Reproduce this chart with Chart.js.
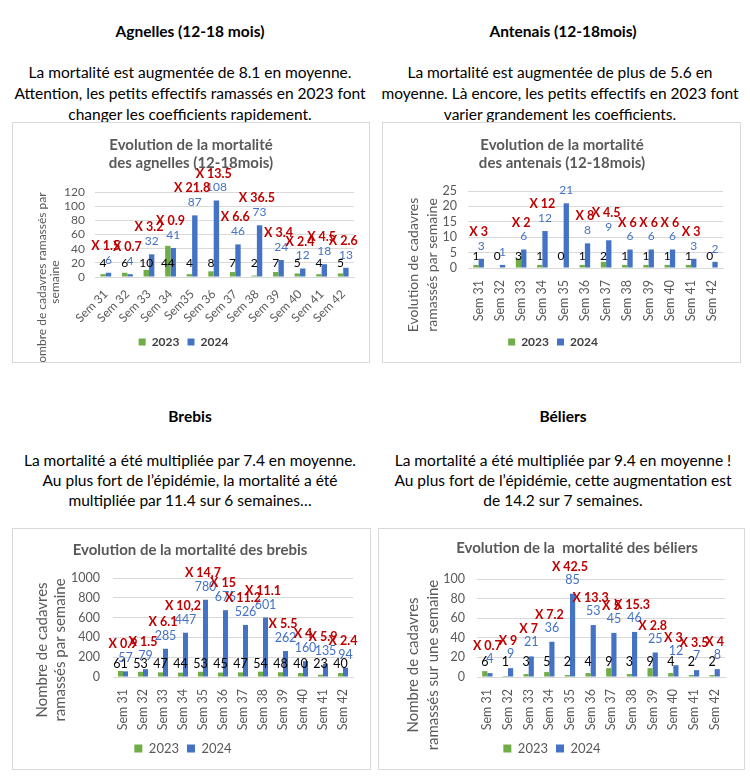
<!DOCTYPE html>
<html>
<head>
<meta charset="utf-8">
<script src="https://cdn.jsdelivr.net/npm/chart.js@4.4.1/dist/chart.umd.min.js"></script>
<style>
  html, body { margin:0; padding:0; background:#fff; }
  body { width:750px; height:779px; position:relative; overflow:hidden; font-family: Lato, 'Liberation Sans', sans-serif; color:#000; }
  .ln { position:absolute; width:420px; text-align:center; white-space:nowrap; font-size:15.5px; line-height:20px; }
  .hd { font-weight:bold; font-size:15.5px; }
  .box { position:absolute; border:1px solid #d9d9d9; box-sizing:border-box; background:#fff; }
  .box canvas { position:absolute; left:0; top:0; }
</style>
</head>
<body>

<div class="ln hd" style="left:-20px; top:21px;">Agnelles (12-18 mois)</div>
<div class="ln" style="left:-20px; top:62px;">La mortalité est augmentée de 8.1 en moyenne.</div>
<div class="ln" style="left:-20px; top:83px;">Attention, les petits effectifs ramassés en 2023 font</div>
<div class="ln" style="left:-20px; top:104px;">changer les coefficients rapidement.</div>

<div class="ln hd" style="left:353px; top:21px;">Antenais (12-18mois)</div>
<div class="ln" style="left:350px; top:62px;">La mortalité est augmentée de plus de 5.6 en</div>
<div class="ln" style="left:350px; top:83px;">moyenne. Là encore, les petits effectifs en 2023 font</div>
<div class="ln" style="left:350px; top:104px;">varier grandement les coefficients.</div>

<div class="ln hd" style="left:-20px; top:406px;">Brebis</div>
<div class="ln" style="left:-20px; top:450px;">La mortalité a été multipliée par 7.4 en moyenne.</div>
<div class="ln" style="left:-20px; top:470px;">Au plus fort de l’épidémie, la mortalité a été</div>
<div class="ln" style="left:-20px; top:490px;">multipliée par 11.4 sur 6 semaines…</div>

<div class="ln hd" style="left:353px; top:406px;">Béliers</div>
<div class="ln" style="left:353px; top:450px;">La mortalité a été multipliée par 9.4 en moyenne !</div>
<div class="ln" style="left:353px; top:470px;">Au plus fort de l’épidémie, cette augmentation est</div>
<div class="ln" style="left:353px; top:490px;">de 14.2 sur 7 semaines.</div>

<div class="box" style="left:12px; top:122px; width:358px; height:241px;"><canvas id="cA"></canvas></div>
<div class="box" style="left:382px; top:122px; width:359px; height:241px;"><canvas id="cB"></canvas></div>
<div class="box" style="left:12px; top:528px; width:359px; height:242px;"><canvas id="cC"></canvas></div>
<div class="box" style="left:378px; top:528px; width:367px; height:242px;"><canvas id="cD"></canvas></div>

<script>
// ---------- DATA ----------
const weekLabelsAgnelles = ['Sem 31','Sem 32','Sem 33','Sem 34','Sem35','Sem 36','Sem 37','Sem 38','Sem 39','Sem 40','Sem 41','Sem 42'];
const weekLabels = ['Sem 31','Sem 32','Sem 33','Sem 34','Sem 35','Sem 36','Sem 37','Sem 38','Sem 39','Sem 40','Sem 41','Sem 42'];
const yearLabels = ['2023','2024'];

const agnelles2023 = [4, 6, 10, 44, 4, 8, 7, 2, 7, 5, 4, 5];
const agnelles2024 = [6, 4, 32, 41, 87, 108, 46, 73, 24, 12, 18, 13];
const agnellesRatio = ['X 1.5','X 0.7','X 3.2','X 0.9','X 21.8','X 13.5','X 6.6','X 36.5','X 3.4','X 2.4','X 4.5','X 2.6'];
const agnellesTicks = [0, 20, 40, 60, 80, 100, 120];

const antenais2023 = [1, 0, 3, 1, 0, 1, 2, 1, 1, 1, 1, 0];
const antenais2024 = [3, 1, 6, 12, 21, 8, 9, 6, 6, 6, 3, 2];
const antenaisRatio = ['X 3', null, 'X 2', 'X 12', null, 'X 8', 'X 4.5', 'X 6', 'X 6', 'X 6', 'X 3', null];
const antenaisTicks = [0, 5, 10, 15, 20, 25];

const brebis2023 = [61, 53, 47, 44, 53, 45, 47, 54, 48, 40, 23, 40];
const brebis2024 = [57, 79, 285, 447, 780, 675, 526, 601, 262, 160, 135, 94];
const brebisRatio = ['X 0.9','X 1.5','X 6.1','X 10,2','X 14,7','X 15','X 11.2','X 11.1','X 5.5','X 4','X 5.9','X 2.4'];
const brebisTicks = [0, 200, 400, 600, 800, 1000];

const beliers2023 = [6, 1, 3, 5, 2, 4, 9, 3, 9, 4, 2, 2];
const beliers2024 = [4, 9, 21, 36, 85, 53, 45, 46, 25, 12, 7, 8];
const beliersRatio = ['X 0.7','X 9','X 7','X 7.2','X 42.5','X 13.3','X 5','X 15.3','X 2.8','X 3','X 3.5','X 4'];
const beliersTicks = [0, 20, 40, 60, 80, 100];

// ---------- STYLE ----------
const FONT = "Lato, 'Liberation Sans', sans-serif";
const GREEN = '#70AD47';
const BLUE = '#4472C4';
const RED = '#C00000';
const GRAY = '#595959';
const GRID = '#d9d9d9';

function makePlugin(ratios, cfg) {
  return {
    id: 'panelText',
    afterDatasetsDraw(chart) {
      const ctx = chart.ctx;
      const yS = chart.scales.y, xS = chart.scales.x;
      const y0 = yS.getPixelForValue(0);
      const m0 = chart.getDatasetMeta(0), m1 = chart.getDatasetMeta(1);
      const d0 = chart.data.datasets[0].data, d1 = chart.data.datasets[1].data;
      ctx.save();
      ctx.textAlign = 'center';
      ctx.textBaseline = 'middle';
      ctx.font = cfg.valSize + 'px ' + FONT;
      ctx.fillStyle = '#000';
      m0.data.forEach((bar, i) => ctx.fillText(String(d0[i]), bar.x, y0 - cfg.lowLift));
      ctx.fillStyle = BLUE;
      m1.data.forEach((bar, i) => ctx.fillText(String(d1[i]), bar.x, bar.y - cfg.valLift));
      ctx.font = 'bold ' + cfg.ratioSize + 'px ' + FONT;
      ctx.fillStyle = RED;
      ratios.forEach((r, i) => {
        if (!r) return;
        ctx.fillText(r, xS.getPixelForValue(i) + cfg.ratioDx, m1.data[i].y - cfg.ratioLift);
      });
      // chart title
      ctx.fillStyle = GRAY;
      ctx.font = 'bold ' + cfg.titleSize + 'px ' + FONT;
      cfg.title.forEach((t, k) => ctx.fillText(t, cfg.titleX, cfg.titleY + k * cfg.titleGap));
      // y-axis title
      ctx.font = cfg.yTitleSize + 'px ' + FONT;
      cfg.yTitle.forEach((t, k) => {
        ctx.save();
        ctx.translate(cfg.yTitleX[k], cfg.yTitleY);
        ctx.rotate(-Math.PI / 2);
        ctx.fillText(t, 0, 0);
        ctx.restore();
      });
      ctx.restore();
    }
  };
}

function makeChart(id, labels, v23, v24, ratios, ticks, cfg) {
  const canvas = document.getElementById(id);
  const box = canvas.parentNode;
  canvas.width = box.clientWidth;
  canvas.height = box.clientHeight;
  return new Chart(canvas, {
    type: 'bar',
    data: {
      labels: labels,
      datasets: [
        { label: yearLabels[0], data: v23, backgroundColor: GREEN, categoryPercentage: 0.5, barPercentage: 1.0 },
        { label: yearLabels[1], data: v24, backgroundColor: BLUE, categoryPercentage: 0.5, barPercentage: 1.0 }
      ]
    },
    options: {
      responsive: false,
      animation: false,
      devicePixelRatio: 1,
      layout: { padding: { left: 0, right: cfg.padRight, top: cfg.padTop, bottom: cfg.padBottom } },
      plugins: {
        title: { display: false },
        tooltip: { enabled: false },
        legend: {
          display: true,
          position: 'bottom',
          labels: {
            boxWidth: cfg.legBox, boxHeight: cfg.legBox,
            padding: cfg.legPad,
            color: cfg.legColor,
            font: { family: FONT, size: cfg.legSize, weight: cfg.legWeight }
          }
        }
      },
      scales: {
        x: {
          grid: { display: false },
          border: { display: true, color: GRID },
          ticks: {
            color: GRAY, autoSkip: false,
            minRotation: cfg.rot, maxRotation: cfg.rot,
            padding: cfg.xPad,
            font: { family: FONT, size: cfg.xSize }
          },
          afterFit: (s) => { s.height = cfg.xHeight; }
        },
        y: {
          min: ticks[0], max: ticks[ticks.length - 1],
          grid: { color: GRID, drawTicks: false },
          border: { display: false },
          ticks: {
            stepSize: ticks[1] - ticks[0],
            autoSkip: false,
            callback: (v) => String(v),
            color: GRAY, padding: cfg.yPad,
            font: { family: FONT, size: cfg.ySize }
          },
          afterFit: (s) => { s.width = cfg.yWidth; }
        }
      }
    },
    plugins: [makePlugin(ratios, cfg)]
  });
}

makeChart('cA', weekLabelsAgnelles, agnelles2023, agnelles2024, agnellesRatio, agnellesTicks, {
  padRight: 15, padTop: 69, padBottom: 4, legPad: 8, legBox: 7, legSize: 12, legWeight: 'bold', legColor: '#404040',
  rot: 45, xPad: 2, xSize: 12, xHeight: 51, yPad: 10, ySize: 12, yWidth: 82,
  valSize: 12, lowLift: 14, valLift: 13, ratioSize: 12.5, ratioLift: 27, ratioDx: 0,
  title: ['Evolution de la mortalité', 'des agnelles (12-18mois)'], titleSize: 15, titleX: 178, titleY: 22, titleGap: 18,
  yTitle: ['Nombre de cadavres ramassés par', 'semaine'], yTitleSize: 12, yTitleX: [29, 42], yTitleY: 159
});

makeChart('cB', weekLabels, antenais2023, antenais2024, antenaisRatio, antenaisTicks, {
  padRight: 17, padTop: 68, padBottom: 4, legPad: 8, legBox: 7, legSize: 12, legWeight: 'bold', legColor: '#404040',
  rot: 90, xPad: 4, xSize: 12.5, xHeight: 60, yPad: 11, ySize: 12.5, yWidth: 85,
  valSize: 12, lowLift: 12, valLift: 13, ratioSize: 12.5, ratioLift: 27, ratioDx: 0,
  title: ['Evolution de la mortalité', 'des antenais (12-18mois)'], titleSize: 15, titleX: 179, titleY: 22, titleGap: 18,
  yTitle: ['Evolution de cadavres', 'ramassés par semaine'], yTitleSize: 14, yTitleX: [30, 49], yTitleY: 142
});

makeChart('cC', weekLabels, brebis2023, brebis2024, brebisRatio, brebisTicks, {
  padRight: 17, padTop: 49, padBottom: 4, legPad: 8, legBox: 8, legSize: 13, legWeight: 'normal', legColor: GRAY,
  rot: 90, xPad: 4, xSize: 12.5, xHeight: 57, yPad: 13, ySize: 12.5, yWidth: 100,
  valSize: 12.5, lowLift: 13, valLift: 13, ratioSize: 12.5, ratioLift: 27, ratioDx: 0,
  title: ['Evolution de la mortalité des brebis'], titleSize: 15, titleX: 177, titleY: 21, titleGap: 18,
  yTitle: ['Nombre de cadavres', 'ramassés par semaine'], yTitleSize: 15, yTitleX: [29, 47], yTitleY: 121
});

makeChart('cD', weekLabels, beliers2023, beliers2024, beliersRatio, beliersTicks, {
  padRight: 19, padTop: 50, padBottom: 4, legPad: 8, legBox: 8, legSize: 13, legWeight: 'normal', legColor: GRAY,
  rot: 90, xPad: 4, xSize: 12.5, xHeight: 57, yPad: 12, ySize: 12.5, yWidth: 98,
  valSize: 12.5, lowLift: 15, valLift: 14, ratioSize: 12.5, ratioLift: 27, ratioDx: 0,
  title: ['Evolution de la  mortalité des béliers'], titleSize: 15, titleX: 198, titleY: 19, titleGap: 18,
  yTitle: ['Nombre de cadavres', 'ramassés sur une semaine'], yTitleSize: 15, yTitleX: [34, 54], yTitleY: 136
});
</script>
</body>
</html>
